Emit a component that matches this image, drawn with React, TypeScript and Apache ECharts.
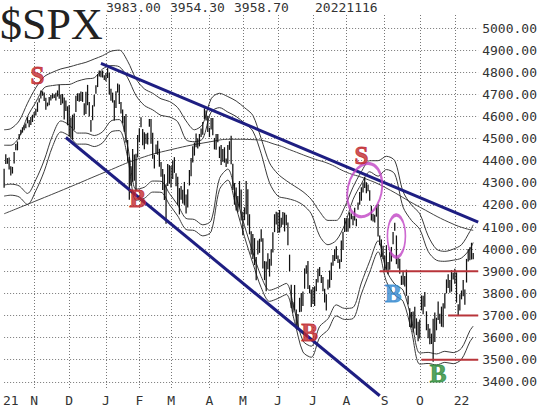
import React, { useEffect, useRef } from "react";
import * as echarts from "echarts";

// ---------- DATA ----------
const START = "2021-10-06";
const END = "2022-11-21"; // last 3 days are empty room on the axis
const HOLIDAYS = ["2021-11-25", "2021-12-24", "2022-01-17", "2022-02-21", "2022-04-15", "2022-05-30", "2022-06-20", "2022-07-04", "2022-09-05"];

const X_LABELS: [string, string][] = [
  ["2021-10-12", "21"], ["2021-11-01", "N"], ["2021-12-01", "D"], ["2022-01-03", "J"], ["2022-02-01", "F"],
  ["2022-03-01", "M"], ["2022-04-01", "A"], ["2022-05-02", "M"], ["2022-06-01", "J"], ["2022-07-01", "J"],
  ["2022-08-01", "A"], ["2022-09-01", "S"], ["2022-10-03", "O"], ["2022-11-07", "22"],
];
const MONTH_STARTS = ["2021-11-01", "2021-12-01", "2022-01-03", "2022-02-01", "2022-03-01", "2022-04-01", "2022-05-02", "2022-06-01", "2022-07-01", "2022-08-01", "2022-09-01", "2022-10-03", "2022-11-01"];

// daily highs / lows, one per trading day from START
const HIGH = [
  // Oct 21
  4364, 4429, 4412, 4415, 4375, 4372, 4439, 4475, 4487, 4521, 4540, 4551, 4560, 4568, 4598, 4584, 4598, 4608,
  // Nov 21
  4620, 4635, 4664, 4683, 4718, 4714, 4708, 4685, 4663, 4688, 4697, 4705, 4701, 4707, 4718, 4743, 4699, 4702, 4686, 4672, 4646,
  // Dec 21
  4652, 4595, 4608, 4613, 4694, 4705, 4705, 4713, 4711, 4660, 4712, 4743, 4666, 4584, 4651, 4698, 4741, 4792, 4808, 4805, 4808, 4787,
  // Jan 22
  4797, 4819, 4798, 4725, 4708, 4673, 4714, 4749, 4745, 4666, 4632, 4602, 4611, 4494, 4417, 4375, 4453, 4428, 4432, 4516,
  // Feb
  4547, 4596, 4543, 4529, 4522, 4527, 4589, 4589, 4527, 4427, 4473, 4490, 4454, 4394, 4363, 4339, 4294, 4385, 4380,
  // Mar
  4376, 4401, 4416, 4343, 4327, 4276, 4286, 4269, 4304, 4247, 4271, 4358, 4412, 4465, 4482, 4523, 4502, 4521, 4546, 4575, 4637, 4627, 4603,
  // Apr
  4549, 4593, 4593, 4503, 4521, 4521, 4464, 4471, 4453, 4461, 4410, 4471, 4488, 4513, 4386, 4299, 4279, 4240, 4308, 4270,
  // May
  4169, 4189, 4308, 4271, 4158, 4081, 4069, 4050, 3965, 4039, 4047, 4090, 4049, 3946, 3944, 3981, 3956, 3999, 4076, 4158, 4169,
  // Jun
  4166, 4177, 4142, 4168, 4165, 4156, 4120, 3975, 3839, 3760, 3838, 3727, 3707, 3780, 3802, 3808, 3913, 3927, 3946, 3837, 3818,
  // Jul
  3829, 3832, 3865, 3911, 3919, 3883, 3874, 3821, 3796, 3863, 3903, 3940, 3974, 3999, 4013, 3971, 3954, 4039, 4079, 4141,
  // Aug
  4140, 4140, 4167, 4161, 4151, 4187, 4138, 4211, 4258, 4280, 4301, 4325, 4302, 4292, 4266, 4196, 4160, 4156, 4200, 4204, 4062, 4044, 4015,
  // Sep
  3970, 4018, 3942, 3987, 4010, 4077, 4119, 4062, 3962, 3957, 3880, 3902, 3878, 3907, 3789, 3733, 3716, 3718, 3740, 3687, 3672,
  // Oct
  3682, 3791, 3789, 3806, 3719, 3662, 3641, 3618, 3685, 3713, 3690, 3763, 3708, 3740, 3755, 3800, 3863, 3887, 3860, 3905, 3893,
  // Nov
  3911, 3895, 3751, 3796, 3813, 3860, 3818, 3956, 4001, 4009, 4029, 3983,
];
const LOW = [
  // Oct 21
  4278, 4385, 4386, 4360, 4333, 4342, 4387, 4447, 4447, 4496, 4518, 4527, 4538, 4547, 4569, 4551, 4561, 4575,
  // Nov 21
  4595, 4604, 4621, 4663, 4681, 4694, 4670, 4630, 4646, 4651, 4672, 4681, 4684, 4672, 4690, 4680, 4652, 4659, 4586, 4625, 4560,
  // Dec 21
  4510, 4505, 4495, 4540, 4620, 4670, 4667, 4670, 4666, 4606, 4611, 4651, 4600, 4531, 4583, 4645, 4703, 4733, 4781, 4778, 4776, 4765,
  // Jan 22
  4759, 4774, 4700, 4671, 4663, 4582, 4638, 4708, 4656, 4614, 4569, 4531, 4482, 4395, 4223, 4287, 4305, 4309, 4264, 4415,
  // Feb
  4483, 4551, 4470, 4452, 4477, 4473, 4554, 4477, 4409, 4365, 4430, 4427, 4373, 4328, 4267, 4222, 4115, 4286, 4296,
  // Mar
  4279, 4317, 4345, 4284, 4199, 4157, 4223, 4206, 4200, 4161, 4188, 4288, 4330, 4392, 4423, 4461, 4455, 4465, 4507, 4517, 4589, 4582, 4530,
  // Apr
  4507, 4541, 4515, 4451, 4450, 4484, 4412, 4381, 4395, 4391, 4371, 4386, 4449, 4384, 4267, 4201, 4175, 4167, 4188, 4130,
  // May
  4063, 4131, 4158, 4107, 4067, 3976, 3956, 3928, 3859, 3976, 3983, 4033, 3912, 3860, 3810, 3909, 3876, 3925, 3985, 4077, 4111,
  // Jun
  4073, 4075, 4099, 4110, 4080, 4108, 4018, 3900, 3734, 3713, 3723, 3640, 3637, 3715, 3717, 3743, 3821, 3889, 3820, 3800, 3738,
  // Jul
  3752, 3743, 3810, 3849, 3878, 3847, 3810, 3759, 3722, 3818, 3825, 3860, 3925, 3946, 3955, 3937, 3911, 3942, 3996, 4077,
  // Aug
  4080, 4079, 4094, 4135, 4108, 4130, 4103, 4178, 4201, 4219, 4256, 4277, 4253, 4262, 4219, 4130, 4125, 4120, 4147, 4057, 4018, 3965, 3954,
  // Sep
  3903, 3907, 3886, 3907, 3944, 4022, 4083, 3932, 3913, 3889, 3838, 3839, 3831, 3789, 3750, 3648, 3645, 3623, 3641, 3611, 3584,
  // Oct
  3596, 3723, 3705, 3739, 3633, 3597, 3570, 3571, 3491, 3580, 3633, 3679, 3663, 3649, 3647, 3732, 3800, 3824, 3803, 3808, 3863,
  // Nov
  3843, 3758, 3699, 3722, 3773, 3787, 3748, 3849, 3944, 3950, 3953, 3954,
];

// envelope lines (trading-day index, value)
const BAND_IDX = [0, 4, 9, 14, 19, 24, 29, 34, 39, 44, 49, 54, 59, 64, 69, 74, 79, 84, 89, 94, 99, 104, 109, 114, 119, 124, 129, 134, 139, 144, 149, 154, 159, 164, 169, 174, 179, 184, 189, 194, 199, 204, 209, 214, 219, 224, 229, 234, 239, 244, 249, 254, 259, 264, 269, 274, 279, 281];
const UPPER_OUT = [4540, 4545, 4580, 4660, 4730, 4780, 4800, 4815, 4824, 4835, 4845, 4860, 4875, 4895, 4900, 4850, 4770, 4725, 4705, 4680, 4668, 4640, 4580, 4540, 4565, 4680, 4705, 4690, 4670, 4640, 4605, 4500, 4390, 4340, 4310, 4285, 4260, 4225, 4170, 4130, 4130, 4190, 4280, 4350, 4400, 4400, 4420, 4400, 4260, 4200, 4160, 4060, 4000, 3990, 4000, 4020, 4080, 4110];
const UPPER_IN = [4470, 4470, 4506, 4600, 4665, 4730, 4740, 4744, 4745, 4760, 4770, 4775, 4815, 4830, 4825, 4775, 4695, 4650, 4630, 4605, 4598, 4576, 4495, 4486, 4500, 4620, 4640, 4620, 4600, 4570, 4534, 4432, 4300, 4240, 4230, 4220, 4200, 4160, 4060, 4020, 4040, 4110, 4224, 4295, 4350, 4330, 4360, 4340, 4190, 4130, 4090, 3990, 3950, 3945, 3950, 3960, 4000, 4030];
const LOWER_IN = [4290, 4294, 4286, 4252, 4314, 4402, 4514, 4580, 4562, 4525, 4525, 4514, 4531, 4580, 4586, 4465, 4271, 4280, 4308, 4307, 4252, 4200, 4139, 4134, 4110, 4129, 4319, 4362, 4238, 4106, 3986, 3876, 3814, 3827, 3845, 3722, 3585, 3561, 3650, 3685, 3748, 3732, 3736, 3847, 3946, 4038, 3904, 3842, 3814, 3682, 3530, 3533, 3526, 3538, 3532, 3552, 3631, 3652];
const LOWER_OUT = [4240, 4244, 4236, 4202, 4264, 4352, 4464, 4530, 4512, 4475, 4475, 4464, 4481, 4530, 4536, 4415, 4221, 4230, 4258, 4257, 4202, 4150, 4089, 4084, 4060, 4079, 4269, 4312, 4188, 4056, 3936, 3826, 3764, 3777, 3795, 3672, 3535, 3511, 3600, 3635, 3698, 3682, 3686, 3797, 3896, 3988, 3854, 3792, 3764, 3632, 3480, 3483, 3476, 3488, 3482, 3502, 3581, 3602];

const MA200_IDX = [0, 18, 39, 61, 81, 100, 123, 136, 150, 164, 171, 185, 195, 205, 216, 228, 249, 270, 281];
const MA200_VAL = [4160, 4215, 4280, 4350, 4410, 4450, 4485, 4497, 4495, 4470, 4450, 4410, 4385, 4348, 4320, 4280, 4190, 4110, 4085];

// annotations (date, price)
const TREND_UPPER: [string, number][] = [["2021-12-29", 4840], ["2022-11-21", 4122]];
const TREND_LOWER: [string, number][] = [["2021-11-29", 4505], ["2022-08-29", 3337]];
const LEVELS: [number, string, string][] = [[3900, "2022-08-29", "2022-11-21"], [3700, "2022-10-26", "2022-11-21"], [3500, "2022-10-04", "2022-11-21"]];
const SIGNALS: [string, number, string, string][] = [
  ["2021-11-03", 4787, "S", "#c0262b"],
  ["2022-01-31", 4231, "B", "#c0262b"],
  ["2022-08-12", 4425, "S", "#c0262b"],
  ["2022-06-29", 3624, "B", "#c0262b"],
  ["2022-09-09", 3801, "B", "#3489d0"],
  ["2022-10-18", 3439, "B", "#2a8a36"],
];
// date, price, width px, height px, tilt deg
const CIRCLES: [string, number, number, number, number][] = [["2022-08-16", 4267, 34, 54, -12], ["2022-09-13", 4059, 18, 42, 0]];

const HEADER_VALUES = ["3983.00", "3954.30", "3958.70"];
const HEADER_DATE = "20221116";
const TITLE = "$SPX";
const Y_MIN = 3372;
const Y_MAX = 5059;

// ---------- BUILD ----------
function tradingDays(start: string, end: string, holidays: string[]) {
  const out: string[] = [];
  const d = new Date(start + "T00:00:00Z");
  const e = new Date(end + "T00:00:00Z");
  while (d <= e) {
    const wd = d.getUTCDay();
    const s = d.toISOString().slice(0, 10);
    if (wd !== 0 && wd !== 6 && !holidays.includes(s)) out.push(s);
    d.setUTCDate(d.getUTCDate() + 1);
  }
  return out;
}

const MONO = "'DejaVu Sans Mono', monospace";

function buildOption() {
  const dates = tradingDays(START, END, HOLIDAYS);
  const labelMap = new Map(X_LABELS);
  const gridSet = new Set(MONTH_STARTS);
  const bars = HIGH.map((h, i) => [i, LOW[i], h]);
  const band = (vals: number[]) => BAND_IDX.map((ix, i) => [ix, vals[i]]);
  const lineStyle = { color: "#3a3a3a", width: 1 };
  const dotted = { type: [1, 2] as any, color: "#777", width: 1 };

  const series: any[] = [
    { type: "line", data: MA200_IDX.map((ix, i) => [ix, MA200_VAL[i]]), symbol: "none", smooth: true, lineStyle: { color: "#444", width: 1 }, z: 3 },
    ...[UPPER_OUT, UPPER_IN, LOWER_IN, LOWER_OUT].map((v) => ({ type: "line", data: band(v), symbol: "none", smooth: 0.3, lineStyle, z: 3 })),
    {
      type: "custom",
      data: bars,
      encode: { x: 0, y: [1, 2] },
      z: 4,
      renderItem: (_p: any, api: any) => {
        const a = api.coord([api.value(0), api.value(1)]);
        const b = api.coord([api.value(0), api.value(2)]);
        return { type: "line", shape: { x1: a[0], y1: a[1], x2: b[0], y2: b[1] }, style: { stroke: "#111", lineWidth: 1.25 } };
      },
    },
    ...[TREND_UPPER, TREND_LOWER].map((d) => ({ type: "line", data: d, symbol: "none", clip: false, lineStyle: { color: "#1e1e82", width: 3 }, z: 6 })),
    ...LEVELS.map(([lv, a, b]) => ({ type: "line", data: [[a, lv], [b, lv]], symbol: "none", clip: false, lineStyle: { color: "#b8343a", width: 2 }, z: 6 })),
    {
      type: "scatter",
      z: 7,
      clip: false,
      data: CIRCLES.map(([d, p, w, h, r]) => ({ value: [d, p], symbolSize: [w, h], symbolRotate: r })),
      symbol: "circle",
      itemStyle: { color: "rgba(0,0,0,0)", borderColor: "#c044c4", borderWidth: 2.5 },
    },
    {
      type: "scatter",
      z: 8,
      clip: false,
      symbolSize: 1,
      itemStyle: { color: "rgba(0,0,0,0)" },
      data: SIGNALS.map(([d, p, t, c]) => ({
        value: [d, p],
        label: {
          show: true, position: "inside", formatter: t, color: c, textBorderWidth: 0.9, textBorderColor: c,
          fontFamily: "'Liberation Serif', serif", fontWeight: "bold", fontSize: 25,
        },
      })),
    },
  ];

  return {
    animation: false,
    backgroundColor: "#fff",
    grid: { left: 0, right: 59.4, top: 15, bottom: 19 },
    xAxis: {
      type: "category",
      data: dates,
      boundaryGap: false,
      axisLine: { show: false },
      axisTick: { show: false },
      axisLabel: {
        interval: (_i: number, v: string) => labelMap.has(v),
        formatter: (v: string) => labelMap.get(v) ?? "",
        fontFamily: MONO,
        fontSize: 13,
        color: "#333",
        margin: 6,
      },
      splitLine: { show: true, interval: (_i: number, v: string) => gridSet.has(v), lineStyle: dotted },
    },
    yAxis: {
      type: "value",
      position: "right",
      min: Y_MIN,
      max: Y_MAX,
      minInterval: 100,
      maxInterval: 100,
      axisLine: { show: false },
      axisTick: { show: false },
      axisLabel: { formatter: (v: number) => v.toFixed(2), fontFamily: MONO, fontSize: 13, color: "#333", margin: 4, showMinLabel: false, showMaxLabel: false },
      splitLine: { show: true, showMinLine: false, showMaxLine: false, lineStyle: dotted },
    },
    graphic: [
      { type: "rect", shape: { x: 0, y: 0, width: 101, height: 41 }, style: { fill: "#fff" }, z: 100 },
      { type: "text", x: 0, y: 2, z: 101, style: { text: TITLE, font: "44px 'Liberation Serif', serif", fill: "#222" } },
      ...HEADER_VALUES.map((t, i) => ({ type: "text", x: 106 + i * 64, y: 1, z: 101, style: { text: t, font: `13px ${MONO}`, fill: "#333" } })),
      { type: "text", x: 315, y: 1, z: 101, style: { text: HEADER_DATE, font: `13px ${MONO}`, fill: "#333" } },
    ],
    series,
  };
}

export default function App() {
  const ref = useRef<HTMLDivElement>(null);
  useEffect(() => {
    document.body.style.margin = "0";
    const chart = echarts.init(ref.current!, null, { renderer: "svg" });
    chart.setOption(buildOption() as any);
    return () => chart.dispose();
  }, []);
  return <div ref={ref} style={{ width: 540, height: 407 }} />;
}
